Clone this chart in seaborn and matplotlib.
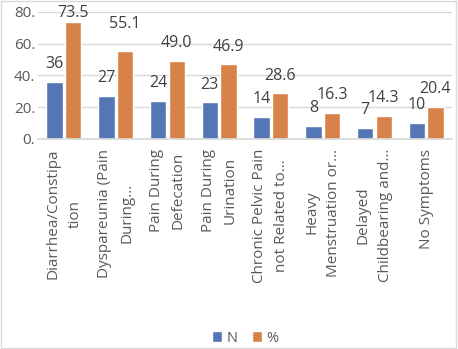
import matplotlib
matplotlib.use("Agg")
import matplotlib.pyplot as plt
import seaborn as sns
import pandas as pd

categories = ["Diarrhea/Constipa\ntion", "Dyspareunia (Pain\nDuring…", "Pain During\nDefecation",
              "Pain During\nUrination", "Chronic Pelvic Pain\nnot Related to…", "Heavy\nMenstruation or…",
              "Delayed\nChildbearing and…", "No Symptoms"]
n_values = [36, 27, 24, 23, 14, 8, 7, 10]
pct_values = [73.5, 55.1, 49.0, 46.9, 28.6, 16.3, 14.3, 20.4]
series_names = ["N", "%"]
y_ticks = [0, 20, 40, 60, 80]
y_tick_labels = ["0.", "20.", "40.", "60.", "80."]

df = pd.DataFrame({
    "cat": categories * 2,
    "series": [series_names[0]] * len(categories) + [series_names[1]] * len(categories),
    "value": n_values + pct_values,
})

sns.set_theme(style="white")
plt.rcParams["font.family"] = ["Open Sans", "DejaVu Sans"]
text_color = "#595959"

fig = plt.figure(figsize=(4.58, 3.49), dpi=100)
ax = fig.add_axes([0.083, 0.602, 0.904, 0.364])
sns.barplot(data=df, x="cat", y="value", hue="series", order=categories, hue_order=series_names,
            palette=["#4472C4", "#ED7D31"], width=0.72, gap=0.12, ax=ax)

ax.set_ylim(0, 80)
ax.set_yticks(y_ticks)
ax.set_yticklabels(y_tick_labels, fontsize=11, color=text_color)
ax.yaxis.grid(True, color="#d9d9d9", linewidth=1)
ax.set_axisbelow(True)
for s in ["left", "right", "top"]:
    ax.spines[s].set_visible(False)
ax.spines["bottom"].set_color("#d9d9d9")
ax.tick_params(axis="both", length=0, pad=2)
ax.set_xlabel("")
ax.set_ylabel("")
ax.set_xticks(range(len(categories)))
ax.set_xticklabels(categories, rotation=90, fontsize=11, color=text_color, ha="center", va="top",
                   multialignment="center", linespacing=1.65)
ax.tick_params(axis="x", pad=7)

n_texts = ax.bar_label(ax.containers[0], labels=[f"{v}" for v in n_values], fontsize=11.5,
                       color="#404040", padding=7)
p_texts = ax.bar_label(ax.containers[1], labels=[f"{v:.1f}" for v in pct_values], fontsize=11.5,
                       color="#404040", padding=7)
# keep the tallest label inside the chart area, as in the reference
p_texts[0].xyann = (0, 1)
p_texts[1].xyann = (0, 14)

leg = ax.legend(loc="lower center", bbox_to_anchor=(0.5, -1.73), ncol=2, frameon=False, fontsize=10.5,
                handlelength=0.7, handleheight=0.7, handletextpad=0.3, columnspacing=1.0, labelcolor=text_color)

fig.patches.append(plt.Rectangle((0.002, 0.002), 0.994, 0.994, transform=fig.transFigure,
                                 fill=False, edgecolor="#d9d9d9", linewidth=1))
fig.savefig("out.png", dpi=100)
